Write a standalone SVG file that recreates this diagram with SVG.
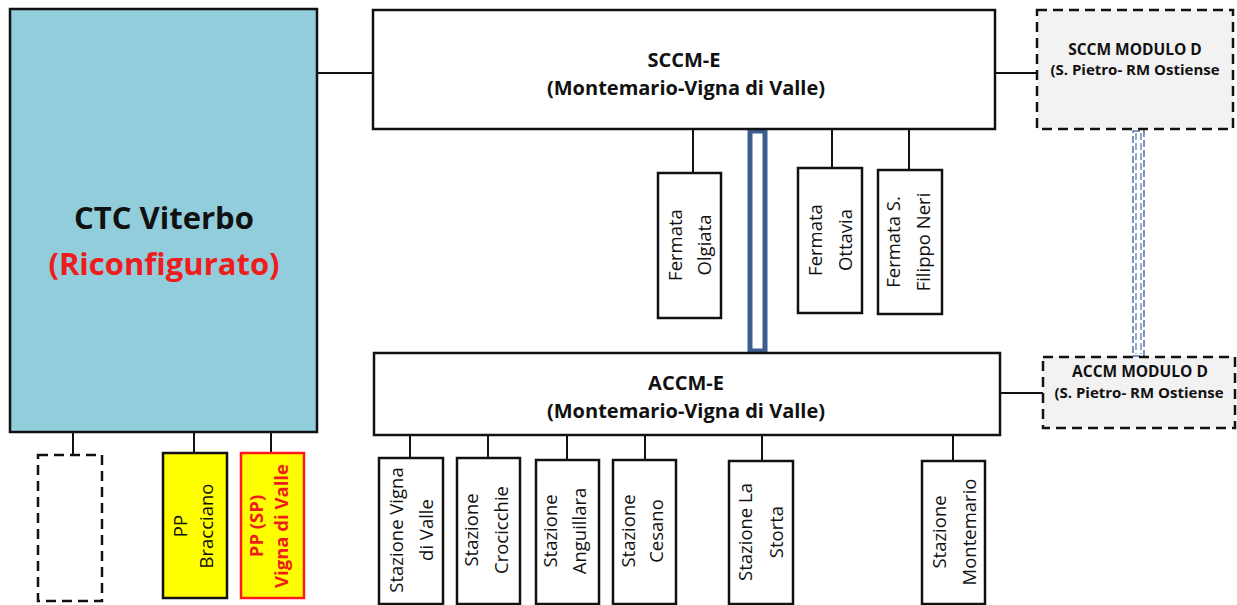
<svg xmlns="http://www.w3.org/2000/svg" width="1237" height="605" viewBox="0 0 1237 605">
<style>
.box{fill:#fff;stroke:#111;stroke-width:2.5}
.dash{stroke:#111;stroke-width:2.5;stroke-dasharray:10 6}
.ln{stroke:#111;stroke-width:2;fill:none}
.t{font-family:"Open Sans","Liberation Sans",sans-serif;fill:#111;text-anchor:middle}
.b{font-weight:bold}
.r{fill:#ee1c1c}
.rot{font-size:18.5px}
</style>
<rect width="1237" height="605" fill="#fff"/>
<g id="connectors">
  <line class="ln" x1="317" y1="73" x2="373" y2="73"/>
  <line class="ln" x1="995" y1="73" x2="1037" y2="73"/>
  <line class="ln" x1="1000" y1="393" x2="1043" y2="393"/>
  <line class="ln" x1="693" y1="129" x2="693" y2="173"/>
  <line class="ln" x1="832" y1="129" x2="832" y2="168"/>
  <line class="ln" x1="909" y1="129" x2="909" y2="170"/>
  <line class="ln" x1="410" y1="435" x2="410" y2="458"/>
  <line class="ln" x1="488" y1="435" x2="488" y2="458"/>
  <line class="ln" x1="567" y1="435" x2="567" y2="460"/>
  <line class="ln" x1="645" y1="435" x2="645" y2="460"/>
  <line class="ln" x1="762" y1="435" x2="762" y2="461"/>
  <line class="ln" x1="953" y1="435" x2="953" y2="461"/>
  <line class="ln" x1="73" y1="432" x2="73" y2="455"/>
  <line class="ln" x1="194" y1="432" x2="194" y2="453"/>
  <line class="ln" x1="271" y1="432" x2="271" y2="453"/>
  <rect x="750" y="131" width="15" height="220" fill="#fff" stroke="#3d5f8f" stroke-width="5"/>
  <rect x="1133" y="131" width="11" height="225" fill="#fff" stroke="#4f71a6" stroke-width="1.5" stroke-dasharray="7 3"/>
  <line x1="1136" y1="133" x2="1136" y2="354" stroke="#4f71a6" stroke-width="1.2" stroke-dasharray="7 3"/>
  <line x1="1141" y1="133" x2="1141" y2="354" stroke="#4f71a6" stroke-width="1.2" stroke-dasharray="7 3"/>
</g>
<g id="ctc">
  <rect x="10" y="9" width="307" height="423" fill="#92cddc" stroke="#111" stroke-width="2.5"/>
  <text class="t b" x="164" y="229" font-size="31">CTC Viterbo</text>
  <text class="t b r" x="164" y="275" font-size="31">(Riconfigurato)</text>
</g>
<g id="sccm-e">
  <rect class="box" x="373" y="10" width="622" height="119"/>
  <text class="t b" x="684" y="67" font-size="20">SCCM-E</text>
  <text class="t b" x="686" y="95" font-size="20">(Montemario-Vigna di Valle)</text>
</g>
<g id="sccm-d">
  <rect x="1037" y="10" width="196" height="119" fill="#f2f2f2" class="dash"/>
  <text class="t b" x="1135" y="55" font-size="15.5">SCCM MODULO D</text>
  <text class="t b" x="1135" y="75" font-size="15">(S. Pietro- RM Ostiense</text>
</g>
<g id="accm-e">
  <rect class="box" x="374" y="353" width="626" height="82"/>
  <text class="t b" x="686" y="390" font-size="20">ACCM-E</text>
  <text class="t b" x="686" y="418" font-size="20">(Montemario-Vigna di Valle)</text>
</g>
<g id="accm-d">
  <rect x="1043" y="357" width="192" height="71" fill="#f2f2f2" class="dash"/>
  <text class="t b" x="1140" y="377" font-size="15.5">ACCM MODULO D</text>
  <text class="t b" x="1139" y="398" font-size="15">(S. Pietro- RM Ostiense</text>
</g>
<g id="olgiata">
  <rect class="box" x="658" y="173" width="63" height="145"/>
  <g transform="translate(690,245) rotate(-90)" class="t rot"><text x="0" y="-8">Fermata</text><text x="0" y="21">Olgiata</text></g>
</g>
<g id="ottavia">
  <rect class="box" x="798" y="168" width="64" height="145"/>
  <g transform="translate(830,240) rotate(-90)" class="t rot"><text x="0" y="-8">Fermata</text><text x="0" y="22">Ottavia</text></g>
</g>
<g id="filippo">
  <rect class="box" x="878" y="170" width="64" height="144"/>
  <g transform="translate(910,242) rotate(-90)" class="t rot"><text x="0" y="-10">Fermata S.</text><text x="0" y="20">Filippo Neri</text></g>
</g>
<g id="st-vigna">
  <rect class="box" x="379" y="458" width="64" height="146"/>
  <g transform="translate(411,530) rotate(-90)" class="t rot"><text x="0" y="-8">Stazione Vigna</text><text x="0" y="22">di Valle</text></g>
</g>
<g id="st-crocicchie">
  <rect class="box" x="457" y="458" width="63" height="146"/>
  <g transform="translate(488,530) rotate(-90)" class="t rot"><text x="0" y="-10">Stazione</text><text x="0" y="20">Crocicchie</text></g>
</g>
<g id="st-anguillara">
  <rect class="box" x="536" y="460" width="63" height="144"/>
  <g transform="translate(567,531) rotate(-90)" class="t rot"><text x="0" y="-10">Stazione</text><text x="0" y="19">Anguillara</text></g>
</g>
<g id="st-cesano">
  <rect class="box" x="613" y="460" width="63" height="144"/>
  <g transform="translate(644,531) rotate(-90)" class="t rot"><text x="0" y="-9">Stazione</text><text x="0" y="19">Cesano</text></g>
</g>
<g id="st-storta">
  <rect class="box" x="729" y="461" width="64" height="143"/>
  <g transform="translate(761,532) rotate(-90)" class="t rot"><text x="0" y="-9">Stazione La</text><text x="0" y="22">Storta</text></g>
</g>
<g id="st-montemario">
  <rect class="box" x="922" y="461" width="63" height="143"/>
  <g transform="translate(953,532) rotate(-90)" class="t rot"><text x="0" y="-7">Stazione</text><text x="0" y="23">Montemario</text></g>
</g>
<g id="empty">
  <rect x="38" y="455" width="64" height="146" fill="#fff" class="dash"/>
</g>
<g id="pp-bracciano">
  <rect x="163" y="453" width="64" height="145" fill="#ffff00" stroke="#111" stroke-width="2.5"/>
  <g transform="translate(195,526) rotate(-90)" class="t rot"><text x="0" y="-8">PP</text><text x="0" y="18">Bracciano</text></g>
</g>
<g id="pp-vigna">
  <rect x="241" y="453" width="63" height="145" fill="#ffff00" stroke="#ff1a1a" stroke-width="2.5"/>
  <g transform="translate(272,526) rotate(-90)" class="t rot b"><text class="r" x="0" y="-9">PP (SP)</text><text class="r" x="0" y="16">Vigna di Valle</text></g>
</g>
</svg>
